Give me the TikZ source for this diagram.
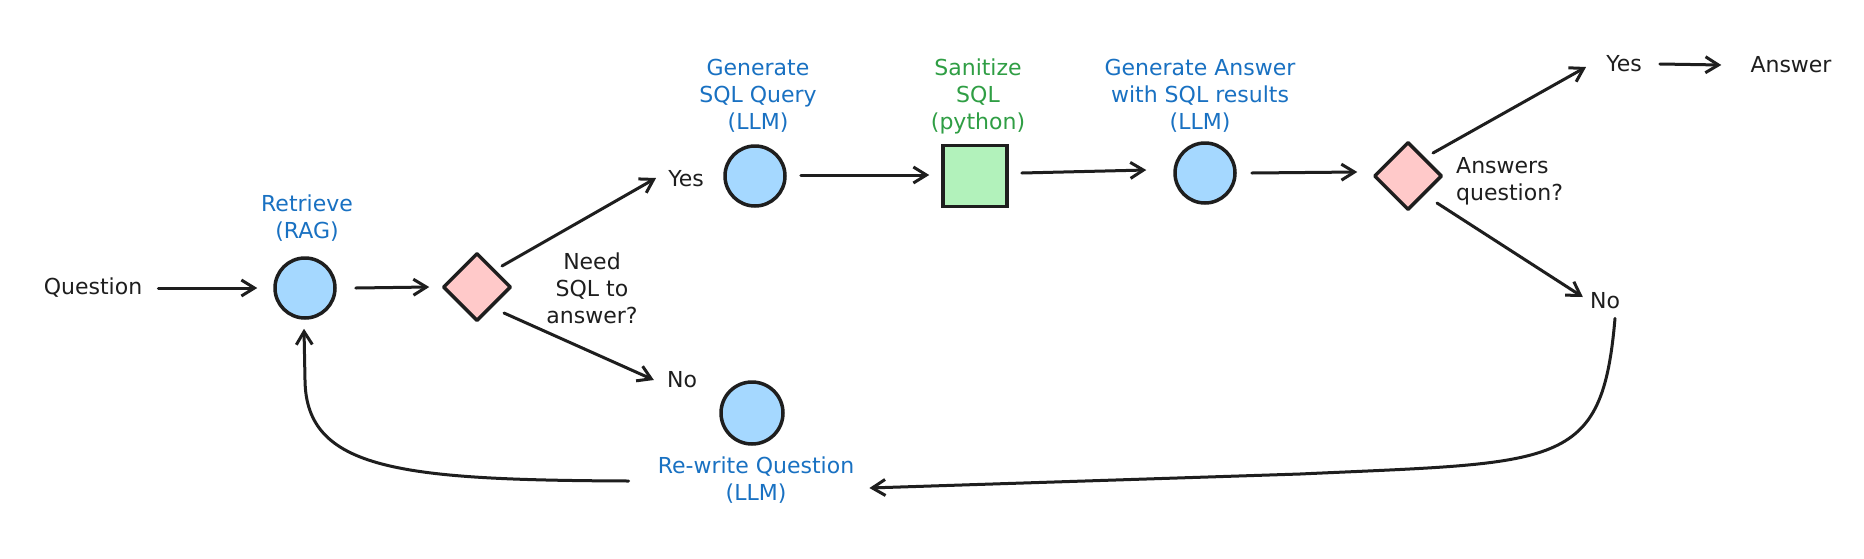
\documentclass[tikz,border=0pt]{standalone}
\usepackage{fontspec}
\setmainfont{DejaVu Sans}
\usetikzlibrary{shapes.geometric,arrows.meta}
\definecolor{ink}{HTML}{1E1E1E}
\definecolor{lblblue}{HTML}{1971C2}
\definecolor{lblgreen}{HTML}{2F9E44}
\definecolor{cblue}{HTML}{A5D8FF}
\definecolor{cred}{HTML}{FFC9C9}
\definecolor{cgreen}{HTML}{B2F2BB}
\begin{document}
\begin{tikzpicture}[x=1pt,y=-1pt,
  every node/.style={font=\fontsize{22}{27}\selectfont, text=ink},
  txt/.style={inner sep=0pt, align=center},
  bluelbl/.style={txt, text=lblblue},
  greenlbl/.style={txt, text=lblgreen},
  arr/.style={draw=ink, line width=3pt, line cap=round, line join=round,
    -{Straight Barb[length=13pt,width=16pt]}},
  llmnode/.style={circle, draw=ink, line width=3.5pt, fill=cblue, minimum size=60pt, inner sep=0pt},
  decision/.style={diamond, aspect=1, draw=ink, line width=3.5pt, line join=round, fill=cred, minimum width=68pt, minimum height=68pt, inner sep=0pt},
  pynode/.style={rectangle, draw=ink, line width=3.5pt, fill=cgreen, minimum width=64pt, minimum height=61pt, inner sep=0pt}
]
\useasboundingbox[fill=white] (0,0) rectangle (1864,558);

% nodes
\node[txt] (q) at (93,288) {Question};
\node[llmnode] (ret) at (305,288) {};
\node[bluelbl] (retlbl) at (307,218) {Retrieve\\(RAG)};
\node[decision] (d1) at (477,287) {};
\node[txt] (need) at (592,288) {Need\\SQL to\\answer?};
\node[txt] (yes1) at (686,179) {Yes};
\node[txt] (no1) at (682,380) {No};

\node[llmnode] (gsql) at (755,176) {};
\node[bluelbl] (gsqllbl) at (758,96) {Generate\\SQL Query\\(LLM)};
\node[pynode] (san) at (975,176) {};
\node[greenlbl] (sanlbl) at (978,96) {Sanitize\\SQL\\(python)};
\node[llmnode] (gans) at (1205,173) {};
\node[bluelbl] (ganslbl) at (1200,96) {Generate Answer\\with SQL results\\(LLM)};

\node[decision] (d2) at (1408,176) {};
\node[txt, align=left, anchor=west] (ansq) at (1456,181) {Answers\\question?};
\node[txt] (yes2) at (1624,64) {Yes};
\node[txt] (answer) at (1791,65) {Answer};
\node[txt] (no2) at (1605,301) {No};

\node[llmnode, minimum size=62pt] (rw) at (752,413) {};
\node[bluelbl] (rwlbl) at (756,480) {Re-write Question\\(LLM)};

% connectors
\draw[arr] ([xshift=16pt]q.east) -- ([xshift=-16pt]ret.west);
\draw[arr] ([xshift=19pt]ret.east) -- ([xshift=-12pt]d1.west);
\draw[arr] ([shift={(25,-21)}]d1.center) -- ([shift={(-12,-1)}]yes1.west);
\draw[arr] ([shift={(27,26)}]d1.center) -- ([shift={(-13,0)}]no1.west);
\draw[arr] ([shift={(14,-1)}]gsql.east) -- ([shift={(-12,-1)}]san.west);
\draw[arr] ([shift={(13,-3)}]san.east) -- ([shift={(-27,-3)}]gans.west);
\draw[arr] ([xshift=15pt]gans.east) -- ([shift={(-15,-4)}]d2.west);
\draw[arr] ([shift={(25,-23)}]d2.center) -- ([shift={(-20,3)}]yes2.west);
\draw[arr] ([shift={(29,27)}]d2.center) -- ([shift={(-7,-4)}]no2.west);
\draw[arr] ([xshift=18pt]yes2.east) -- ([xshift=-29pt]answer.west);
\draw[arr] ([shift={(10,9)}]no2.south)
  .. controls (1602,470) and (1560,462) .. (1300,474)
  -- ([shift={(15,8)}]rwlbl.east);
\draw[arr] ([shift={(-29,1)}]rwlbl.west)
  .. controls (400,480) and (306,470) .. (305,380)
  -- ([shift={(-1,9)}]ret.south);
\end{tikzpicture}
\end{document}
